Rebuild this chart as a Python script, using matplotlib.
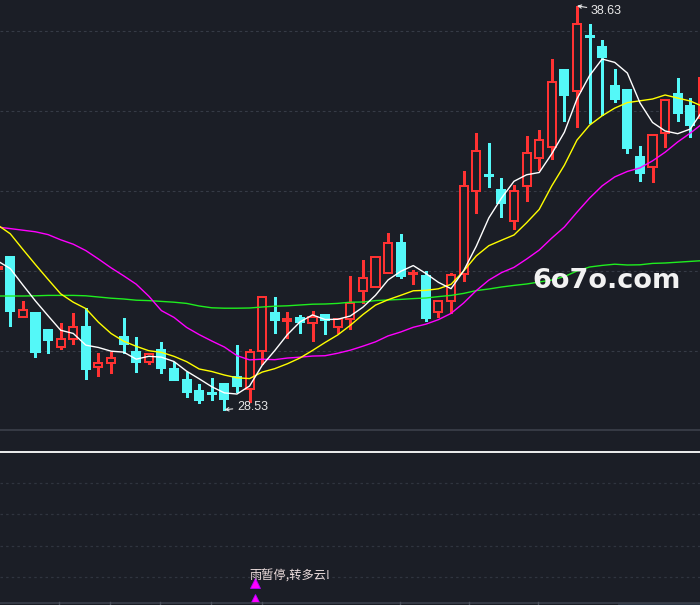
import numpy as np
import pandas as pd
import matplotlib
matplotlib.use('Agg')
import matplotlib.pyplot as plt
from matplotlib.patches import Rectangle
from matplotlib.lines import Line2D

# ---------------- data ----------------
opens = [32.04, 32.36, 30.84, 30.95, 30.525, 30.11, 30.29, 30.59, 29.59, 29.69,
         30.35, 29.975, 29.72, 30.025, 29.55, 29.275, 29.00, 28.94, 29.175, 29.36,
         29.04, 29.99, 30.95, 30.74, 30.83, 30.69, 30.90, 30.61, 30.79, 31.49,
         31.61, 31.94, 32.69, 31.93, 31.875, 30.97, 31.25, 31.925, 34.01, 34.39,
         34.025, 33.24, 34.125, 34.82, 35.10, 37.025, 36.49, 37.87, 37.59, 36.625,
         36.525, 34.86, 34.61, 35.46, 36.42, 36.125, 35.82]
highs = [32.11, 32.36, 31.25, 30.95, 30.525, 30.69, 30.94, 31.07, 29.94, 29.98,
         30.825, 30.35, 29.92, 30.22, 29.72, 29.48, 29.175, 29.32, 29.21, 30.15,
         30.05, 31.375, 31.35, 30.97, 30.90, 31.01, 30.925, 30.81, 31.88, 32.275,
         32.375, 32.94, 32.92, 32.025, 32.01, 31.24, 31.96, 34.50, 35.44, 35.19,
         34.32, 34.15, 35.375, 35.525, 37.29, 37.025, 38.63, 38.175, 37.775, 37.05,
         36.525, 35.125, 35.39, 36.29, 36.82, 36.32, 37.00]
lows = [32.04, 30.63, 30.84, 29.86, 29.96, 30.04, 30.17, 29.31, 29.38, 29.46,
        29.94, 29.48, 29.675, 29.46, 29.275, 28.86, 28.71, 28.775, 28.53, 28.97,
        28.73, 29.675, 30.44, 30.32, 30.44, 30.26, 30.42, 30.46, 30.55, 31.19,
        31.61, 31.94, 31.82, 31.675, 30.75, 30.84, 30.96, 31.76, 33.46, 34.11,
        33.36, 33.06, 33.76, 34.525, 34.80, 35.76, 35.59, 35.69, 35.89, 36.23,
        34.94, 34.26, 34.23, 35.09, 35.76, 35.34, 35.70]
closes = [32.11, 31.01, 31.025, 29.98, 30.28, 30.30, 30.61, 29.56, 29.69, 29.82,
          30.18, 29.73, 29.92, 29.58, 29.275, 28.975, 28.775, 28.93, 28.81, 29.13,
          29.98, 31.35, 30.78, 30.80, 30.72, 30.86, 30.775, 30.81, 31.21, 31.82,
          32.35, 32.69, 31.88, 31.94, 30.83, 31.24, 31.90, 34.125, 34.99, 34.38,
          33.71, 34.01, 34.94, 35.27, 36.72, 36.41, 38.175, 37.85, 37.34, 36.30,
          35.08, 34.46, 35.39, 36.275, 35.96, 35.66, 36.82]

# moving-average values before a full window is available
ma5_head = [32.25, 32.06, 31.65, 31.25]
ma10_head = [33.15, 32.93, 32.54, 32.16, 31.79, 31.43, 31.22, 31.06, 30.72]
ma20_head = [33.10, 33.06, 33.02, 32.98, 32.91, 32.78, 32.67, 32.51, 32.30, 32.08,
             31.88, 31.67, 31.37, 31.01, 30.84, 30.59, 30.41, 30.25, 30.10]
ma60 = [31.375, 31.375, 31.375, 31.38, 31.39, 31.39, 31.39, 31.38, 31.35, 31.32,
        31.30, 31.27, 31.26, 31.24, 31.22, 31.19, 31.125, 31.08, 31.07, 31.07,
        31.075, 31.10, 31.12, 31.13, 31.15, 31.17, 31.175, 31.19, 31.22, 31.225,
        31.26, 31.275, 31.29, 31.31, 31.325, 31.36, 31.39, 31.44, 31.51, 31.55,
        31.60, 31.64, 31.675, 31.725, 31.775, 31.86, 32.00, 32.10, 32.14, 32.17,
        32.15, 32.155, 32.19, 32.20, 32.22, 32.24, 32.26]

price_grid = [30, 32, 34, 36, 38]
high_idx = 46
low_idx = 18
signal_idx = 20
signal_text = '雨暂停,转多云!'
signal_levels = [0.6, 0.1]
watermark = '6o7o.com'

# ---------------- style ----------------
BG = '#1b1e26'
RED = '#ff3232'
CYAN = '#54f8f8'
GRID = '#363b46'
SEP = '#3c404b'

def with_head(series, head):
    out = series.copy()
    out.iloc[:len(head)] = head
    return out

s = pd.Series(closes)
ma5 = with_head(s.rolling(5).mean(), ma5_head)
ma10 = with_head(s.rolling(10).mean(), ma10_head)
ma20 = with_head(s.rolling(20).mean(), ma20_head)

n = len(closes)
x = np.arange(n)

fig = plt.figure(figsize=(7, 6.05), dpi=100)
fig.patch.set_facecolor(BG)

ax = fig.add_axes([0, 175 / 605, 1, 430 / 605])
ax.set_facecolor(BG)
ax.set_xlim(0.183, 55.77)
ax.set_ylim(28.025, 38.775)
for sp in ax.spines.values():
    sp.set_visible(False)
ax.set_xticks([])
ax.set_yticks([])
for g in price_grid:
    ax.axhline(g, color=GRID, lw=0.8, ls=(0, (2.5, 2.5)), zorder=0)

bw = 0.64
for i in range(n):
    o, h, l, c = opens[i], highs[i], lows[i], closes[i]
    up = c >= o
    col = RED if up else CYAN
    top, bot = max(o, c), min(o, c)
    if h > top:
        ax.plot([i, i], [top, h], color=col, lw=1.0, zorder=2,
                solid_capstyle='butt', antialiased=False)
    if l < bot:
        ax.plot([i, i], [l, bot], color=col, lw=1.0, zorder=2,
                solid_capstyle='butt', antialiased=False)
    ax.add_patch(Rectangle((i - bw / 2, bot), bw, max(top - bot, 0.001),
                           facecolor=(BG if up else CYAN), edgecolor=col,
                           lw=1.1, zorder=3, antialiased=False))

ax.plot(x, ma60, color='#1fee1f', lw=1.0, zorder=4)
ax.plot(x, ma20, color='#ff00ff', lw=1.0, zorder=4)
ax.plot(x, ma10, color='#ffff00', lw=1.0, zorder=4)
ax.plot(x, ma5, color='#ffffff', lw=1.0, zorder=5)

txt_col = '#e6e6e6'
ax.annotate(f'{highs[high_idx]:.2f}', xy=(high_idx, highs[high_idx]),
            xytext=(10, -3.6), textcoords='offset points', ha='left', va='center',
            fontsize=9, color=txt_col, family='Liberation Sans',
            arrowprops=dict(arrowstyle='->', color=txt_col, lw=0.8,
                            shrinkA=1, shrinkB=0, mutation_scale=6), zorder=6)
ax.annotate(f'{lows[low_idx]:.2f}', xy=(low_idx, lows[low_idx]),
            xytext=(9, 2.2), textcoords='offset points', ha='left', va='center',
            fontsize=9, color=txt_col, family='Liberation Sans',
            arrowprops=dict(arrowstyle='->', color=txt_col, lw=0.8,
                            shrinkA=1, shrinkB=0, mutation_scale=6), zorder=6)

# watermark
fig.text(532 / 700, 1 - 281 / 605, watermark, fontsize=19.5, fontweight='bold',
         color='#f2f2f2', ha='left', va='center', family='DejaVu Sans', zorder=10)

# separator between panels
fig.add_artist(Line2D([0, 1], [1 - 429.5 / 605] * 2, color=SEP, lw=1.2))

# ---------------- lower panel ----------------
ax2 = fig.add_axes([0, 3 / 605, 1, 172 / 605])
ax2.set_facecolor(BG)
ax2.set_xlim(0.183, 55.77)
ax2.set_ylim(0, 5.5)
for sp in ax2.spines.values():
    sp.set_visible(False)
ax2.set_xticks([])
ax2.set_yticks([])
for g in [0.8, 1.8, 2.8, 3.8]:
    ax2.axhline(g, color='#30353f', lw=0.9, ls=(0, (2, 2.5)), zorder=0)
ax2.axhline(4.8, color='#ffffff', lw=1.3, zorder=1)

for lv in signal_levels:
    ax2.plot([signal_idx + 0.42], [lv], marker='^', ms=6.5, color='#ff00ff',
             mec='#b000ff', mew=0.6, ls='none', zorder=4)
ax2.text(signal_idx, 0.84, signal_text, fontsize=8.8, color='#ecdcdc',
         ha='left', va='center', family=['Noto Sans CJK SC', 'DejaVu Sans'], zorder=5)

# bottom strip
fig.add_artist(Line2D([0, 1], [2.5 / 605] * 2, color='#3a3f4b', lw=1.2))
for xp in [59, 110, 160, 211, 262, 400, 469, 538]:
    fig.add_artist(Line2D([xp / 700] * 2, [0, 3 / 605], color='#4a505c', lw=1))
fig.add_artist(Rectangle((618 / 700, 0), 82 / 700, 2.5 / 605, transform=fig.transFigure,
                         facecolor='#2c3442', edgecolor='none'))

fig.savefig('out.png', dpi=100, facecolor=BG)
